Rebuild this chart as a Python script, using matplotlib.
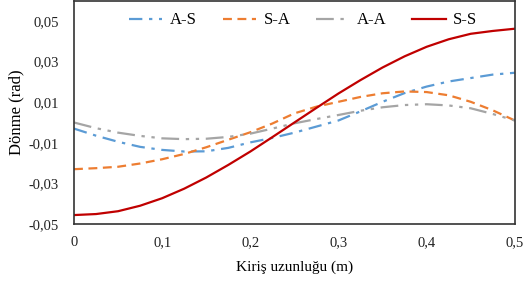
import matplotlib
matplotlib.use('Agg')
import matplotlib.pyplot as plt
from matplotlib.ticker import FuncFormatter

x = [0, 0.025, 0.05, 0.075, 0.1, 0.125, 0.15, 0.175, 0.2, 0.225, 0.25,
     0.275, 0.3, 0.325, 0.35, 0.375, 0.4, 0.425, 0.45, 0.475, 0.5]

a_s = [-0.003, -0.0065, -0.0095, -0.012, -0.0135, -0.0143, -0.0142, -0.0125, -0.0098, -0.0076, -0.005,
       -0.002, 0.001, 0.0055, 0.0102, 0.0145, 0.0177, 0.0202, 0.0219, 0.0236, 0.0245]
s_a = [-0.023, -0.0225, -0.0218, -0.0202, -0.0181, -0.0155, -0.0122, -0.0085, -0.0048, -0.0005, 0.0045,
       0.0078, 0.0102, 0.0126, 0.0144, 0.0153, 0.015, 0.0134, 0.0102, 0.006, 0.001]
a_a = [0.0, -0.0028, -0.005, -0.0066, -0.0078, -0.0082, -0.008, -0.0071, -0.0055, -0.003, -0.0004,
       0.0017, 0.0037, 0.0058, 0.0075, 0.0086, 0.009, 0.0084, 0.007, 0.0042, 0.001]
s_s = [-0.0456, -0.0451, -0.0437, -0.041, -0.0373, -0.0326, -0.0271, -0.0209, -0.0143, -0.0072, 0.0,
       0.0072, 0.0143, 0.0209, 0.0271, 0.0326, 0.0373, 0.041, 0.0437, 0.0451, 0.0462]

labels = ['A-S', 'S-A', 'A-A', 'S-S']
colors = ['#5B9BD5', '#ED7D31', '#A5A5A5', '#C00000']

xticks = [0, 0.1, 0.2, 0.3, 0.4, 0.5]
yticks = [-0.05, -0.03, -0.01, 0.01, 0.03, 0.05]

plt.rcParams['font.family'] = ['Liberation Serif', 'DejaVu Serif']

fig = plt.figure(figsize=(5.26, 2.83), dpi=100)
ax = fig.add_axes([0.1407, 0.2085, 0.838, 0.789])

ax.plot(x, a_s, color=colors[0], lw=1.6, dashes=(6, 3, 1.5, 3), label=labels[0])
ax.plot(x, s_a, color=colors[1], lw=1.6, dashes=(4, 2.5), label=labels[1])
ax.plot(x, a_a, color=colors[2], lw=1.6, dashes=(8, 3, 1.5, 3, 1.5, 3), label=labels[2])
ax.plot(x, s_s, color=colors[3], lw=1.6, label=labels[3])

ax.set_xlim(0, 0.5)
ax.set_ylim(-0.05, 0.06)
ax.set_xticks(xticks)
ax.set_yticks(yticks)

ax.xaxis.set_major_formatter(FuncFormatter(lambda v, p: ('%g' % round(v, 2)).replace('.', ',')))
ax.yaxis.set_major_formatter(FuncFormatter(lambda v, p: ('%.2f' % v).replace('.', ',')))
ax.tick_params(length=0, labelsize=10.5, colors='#222222')
ax.tick_params(axis='y', pad=11)
ax.tick_params(axis='x', pad=9)

for sp in ax.spines.values():
  sp.set_color('#333333')
  sp.set_linewidth(1.2)

ax.set_xlabel('Kiriş uzunluğu (m)', fontsize=11, labelpad=8)
ax.set_ylabel('Dönme (rad)', fontsize=12, labelpad=3)

ax.legend(loc='upper center', bbox_to_anchor=(0.52, 1.015), ncol=4, frameon=False,
          fontsize=12, handlelength=2.0, columnspacing=1.55, handletextpad=0.45)

plt.savefig('out.png', dpi=100)
